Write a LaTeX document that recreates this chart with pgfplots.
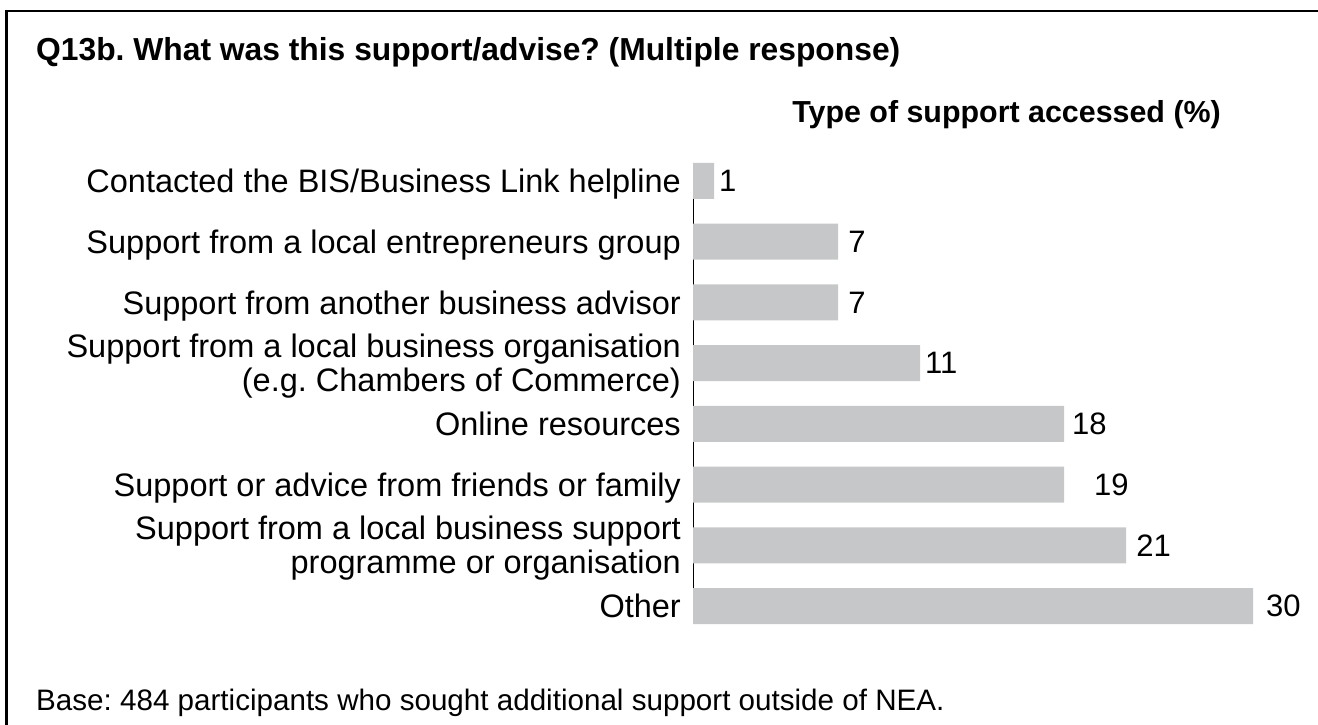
\documentclass[border=0pt]{standalone}
\usepackage{pgfplots}
\pgfplotsset{compat=1.18}
\usepackage{fontspec}
\setmainfont{Liberation Sans}
\frenchspacing
\definecolor{bargray}{RGB}{198,199,200}
\newcommand\lab[1]{\smash{#1}\rule{0pt}{0.716em}}
\newcommand\fs{\fontsize{32.5bp}{34bp}\selectfont}
\newcommand\fn{\fontsize{31bp}{34bp}\selectfont}
\begin{document}
\begin{tikzpicture}[x=1bp,y=1bp]
\useasboundingbox (0,0) rectangle (1318,724);
\draw[line width=2.6bp] (6.3,-2) -- (6.3,713) -- (1320,713);
\node[anchor=base west, inner sep=0pt, font=\fontsize{31.8bp}{36bp}\selectfont\bfseries] at (36,663) {Q13b. What was this support/advise? (Multiple response)};
\node[anchor=base east, inner sep=0pt, font=\fontsize{30.4bp}{34bp}\selectfont\bfseries] at (1221,601) {Type of support accessed (\%)};
\node[anchor=base west, inner sep=0pt, font=\fontsize{29.6bp}{34bp}\selectfont] at (36,14) {Base: 484 participants who sought additional support outside of NEA.};
\begin{axis}[
  at={(693bp,561bp)}, anchor=north west,
  scale only axis, width=560bp, height=461bp,
  xmin=0, xmax=30, ymin=0.7035, ymax=8.2965,
  y dir=reverse, clip=false,
  hide x axis,
  axis y line=left,
  y axis line style={-, line width=1bp, black},
  ytick={1,2,3,4,5,6,7,8},
  major tick length=0pt,
  ytick style={draw=none},
  yticklabels={
    {\lab{Contacted the BIS/Business Link helpline}},
    {\lab{Support from a local entrepreneurs group}},
    {\lab{Support from another business advisor}},
    {\lab{Support from a local business organisation}\\\lab{(e.g. Chambers of Commerce)}},
    {\lab{Online resources}},
    {\lab{Support or advice from friends or family}},
    {\lab{Support from a local business support}\\\lab{programme or organisation}},
    {\lab{Other}}
  },
  yticklabel style={align=right, anchor=east, inner sep=0pt, xshift=-12bp, font=\fs},
]
\addplot[xbar, fill=bargray, draw=none, bar width=36bp,
  point meta=explicit symbolic,
  nodes near coords={\pgfplotspointmeta},
  visualization depends on={value \thisrow{dx} \as \dx},
  every node near coord/.append style={anchor=west, inner sep=0pt, xshift=\dx, font=\fn, text=black}]
  table[x=len, y=pos, meta=lab] {
pos len lab dx
1 1.125 1 5bp
2 7.77 7 10bp
3 7.77 7 10bp
4 12.16 11 5bp
5 19.875 18 8bp
6 19.875 19 30bp
7 23.2 21 10bp
8 30 30 13bp
};
\end{axis}
\end{tikzpicture}
\end{document}
